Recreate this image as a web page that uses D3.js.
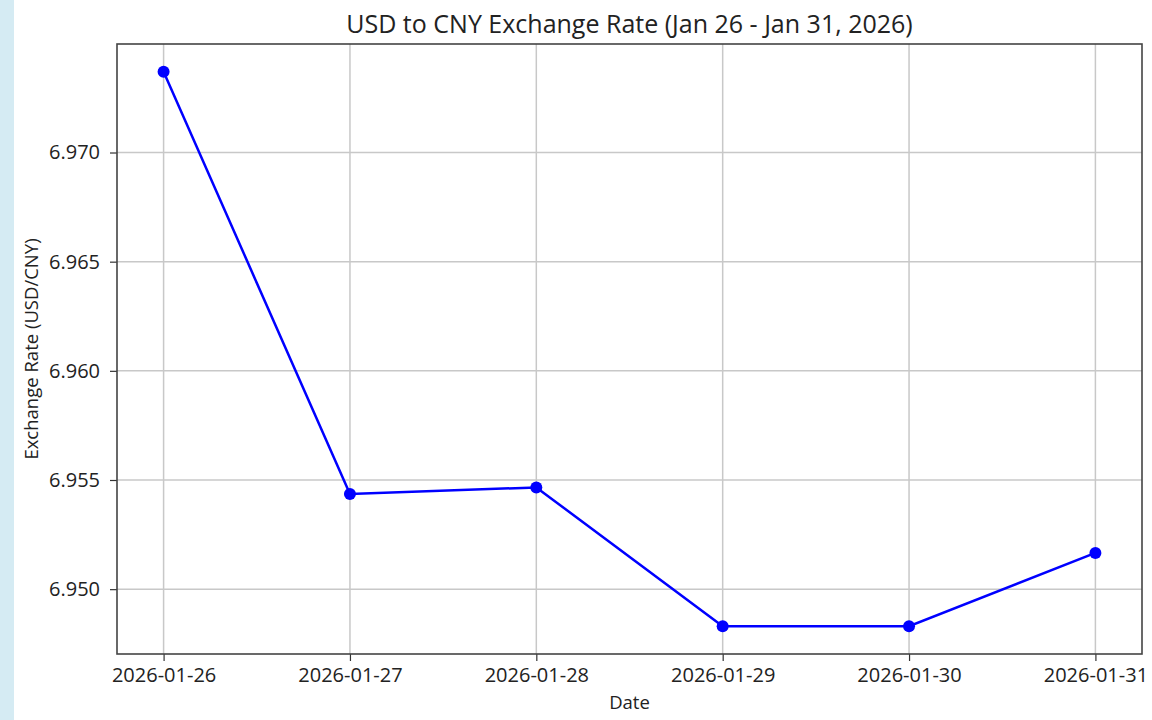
<!DOCTYPE html>
<html>
<head>
<meta charset="utf-8">
<script src="https://cdn.jsdelivr.net/npm/d3@7"></script>
<style>
  html, body { margin: 0; padding: 0; background: #fff; }
  svg { display: block; }
</style>
</head>
<body>
<div id="chart"></div>
<script>
// data
var dates = ["2026-01-26", "2026-01-27", "2026-01-28", "2026-01-29", "2026-01-30", "2026-01-31"]
var rates = [6.9737, 6.95436, 6.95466, 6.9483, 6.9483, 6.95166]
var yTicks = [6.950, 6.955, 6.960, 6.965, 6.970]

var width = 1152
var height = 720
var mLeft = 117, mRight = 1142, mTop = 44, mBottom = 654
var font = "'Open Sans', 'DejaVu Sans', sans-serif"

var svg = d3.select("#chart").append("svg")
    .attr("width", width)
    .attr("height", height)

// light blue strip down the left edge
svg.append("rect").attr("x", 0).attr("y", 0).attr("width", 14).attr("height", height).attr("fill", "#d5ebf3")

// matplotlib style 5% padding around the data
var pad = 0.05
var ymin = d3.min(rates), ymax = d3.max(rates)
var yr = ymax - ymin
var x = d3.scaleLinear().domain([-pad * (dates.length - 1), (dates.length - 1) * (1 + pad)]).range([mLeft, mRight])
var y = d3.scaleLinear().domain([ymin - yr * pad, ymax + yr * pad]).range([mBottom, mTop])

// grid
svg.append("g").selectAll("line").data(dates).enter().append("line")
    .attr("x1", function(d, i) { return x(i) }).attr("x2", function(d, i) { return x(i) })
    .attr("y1", mTop).attr("y2", mBottom)
    .attr("stroke", "#c8c8c8").attr("stroke-width", 1.5)
svg.append("g").selectAll("line").data(yTicks).enter().append("line")
    .attr("x1", mLeft).attr("x2", mRight)
    .attr("y1", function(d) { return y(d) }).attr("y2", function(d) { return y(d) })
    .attr("stroke", "#c8c8c8").attr("stroke-width", 1.5)

// axes
var xAxis = svg.append("g")
    .attr("transform", "translate(0," + mBottom + ")")
    .call(d3.axisBottom(x).tickValues(d3.range(dates.length)).tickFormat(function(i) { return dates[i] }).tickSizeOuter(0).tickSize(7).tickPadding(7))
var yAxis = svg.append("g")
    .attr("transform", "translate(" + mLeft + ",0)")
    .call(d3.axisLeft(y).tickValues(yTicks).tickFormat(d3.format(".3f")).tickSizeOuter(0).tickSize(7).tickPadding(10))

xAxis.select(".domain").remove()
yAxis.select(".domain").remove()
svg.selectAll(".tick line").attr("stroke", "#333").attr("stroke-width", 1.2)
svg.selectAll(".tick text").attr("fill", "#222").style("font-family", font).style("font-size", "20px")

// frame
svg.append("rect")
    .attr("x", mLeft).attr("y", mTop).attr("width", mRight - mLeft).attr("height", mBottom - mTop)
    .attr("fill", "none").attr("stroke", "#444").attr("stroke-width", 1.6)

// line + markers
var line = d3.line()
    .x(function(d, i) { return x(i) })
    .y(function(d) { return y(d) })
svg.append("path")
    .datum(rates)
    .attr("d", line)
    .attr("fill", "none")
    .attr("stroke", "#0000ff")
    .attr("stroke-width", 2.5)
svg.append("g").selectAll("circle").data(rates).enter().append("circle")
    .attr("cx", function(d, i) { return x(i) })
    .attr("cy", function(d) { return y(d) })
    .attr("r", 6)
    .attr("fill", "#0000ff")

// labels
svg.append("text").text("USD to CNY Exchange Rate (Jan 26 - Jan 31, 2026)")
    .attr("x", (mLeft + mRight) / 2).attr("y", 33)
    .attr("text-anchor", "middle").attr("fill", "#222")
    .style("font-family", font).style("font-size", "25px")
svg.append("text").text("Date")
    .attr("x", (mLeft + mRight) / 2).attr("y", 709)
    .attr("text-anchor", "middle").attr("fill", "#222")
    .style("font-family", font).style("font-size", "18.5px")
svg.append("text").text("Exchange Rate (USD/CNY)")
    .attr("transform", "translate(38," + (mTop + mBottom) / 2 + ") rotate(-90)")
    .attr("text-anchor", "middle").attr("fill", "#222")
    .style("font-family", font).style("font-size", "18.5px")
</script>
</body>
</html>
